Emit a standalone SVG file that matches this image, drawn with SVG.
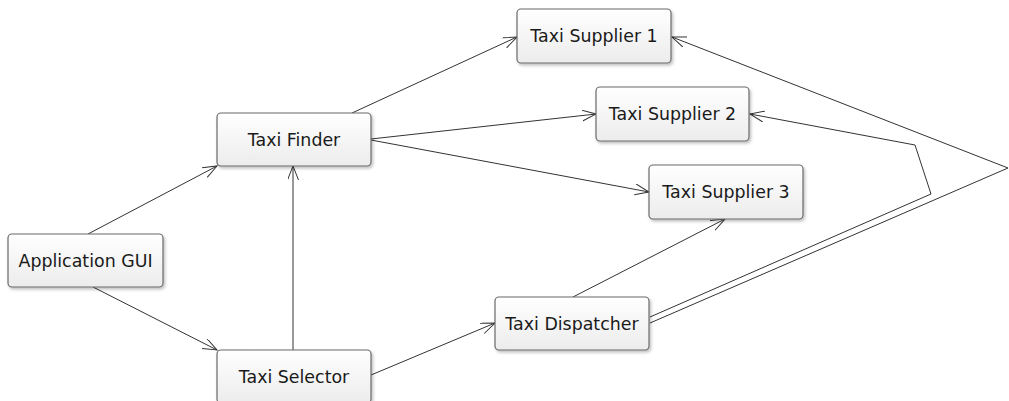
<svg xmlns="http://www.w3.org/2000/svg" width="1009" height="401" viewBox="0 0 1009 401">
<style>
.box{fill:url(#g);stroke:#6a6a6a;stroke-width:1.2;filter:url(#sh)}
.lbl{font-family:"DejaVu Sans",Verdana,sans-serif;font-size:17.4px;fill:#1a1a1a;text-anchor:middle}
.c{fill:none;stroke:#333;stroke-width:1;marker-end:url(#a)}
</style>
<defs>
<linearGradient id="g" x1="0" y1="0" x2="0" y2="1">
<stop offset="0" stop-color="#ffffff"/>
<stop offset="1" stop-color="#ececec"/>
</linearGradient>
<filter id="sh" x="-10%" y="-20%" width="130%" height="150%">
<feDropShadow dx="1.5" dy="2" stdDeviation="1.5" flood-color="#000" flood-opacity="0.25"/>
</filter>
<marker id="a" markerUnits="userSpaceOnUse" markerWidth="16" markerHeight="12" refX="14" refY="5.5" orient="auto">
<path d="M0,0 L14,5.5 L0,11" fill="none" stroke="#333" stroke-width="1"/>
</marker>
</defs>
<g id="connectors">
<line class="c" x1="88" y1="234" x2="217" y2="166"/>
<line class="c" x1="93" y1="287" x2="217" y2="350"/>
<line class="c" x1="293" y1="350" x2="293" y2="166"/>
<line class="c" x1="352" y1="113" x2="517" y2="37"/>
<line class="c" x1="371" y1="139" x2="596" y2="114"/>
<line class="c" x1="371" y1="140" x2="649" y2="192"/>
<line class="c" x1="371" y1="375" x2="495" y2="323"/>
<line class="c" x1="573" y1="297" x2="725" y2="219"/>
<polyline class="c" points="650,317 931,194 915,145 750,114"/>
<polyline class="c" points="650,323 1008,168 672,37"/>
</g>
<g id="app-gui"><rect class="box" x="8" y="234" width="155" height="53" rx="4"/><text class="lbl" x="85.5" y="266.5">Application GUI</text></g>
<g id="taxi-finder"><rect class="box" x="217" y="113" width="154" height="53" rx="4"/><text class="lbl" x="294" y="145.5">Taxi Finder</text></g>
<g id="taxi-selector"><rect class="box" x="217" y="350" width="154" height="53" rx="4"/><text class="lbl" x="294" y="382.5">Taxi Selector</text></g>
<g id="taxi-supplier-1"><rect class="box" x="517" y="9" width="154" height="54" rx="4"/><text class="lbl" x="594" y="42">Taxi Supplier 1</text></g>
<g id="taxi-supplier-2"><rect class="box" x="596" y="87" width="153" height="54" rx="4"/><text class="lbl" x="672.5" y="120">Taxi Supplier 2</text></g>
<g id="taxi-supplier-3"><rect class="box" x="649" y="165" width="154" height="54" rx="4"/><text class="lbl" x="726" y="198">Taxi Supplier 3</text></g>
<g id="taxi-dispatcher"><rect class="box" x="495" y="297" width="154" height="53" rx="4"/><text class="lbl" x="572" y="329.5">Taxi Dispatcher</text></g>
</svg>
